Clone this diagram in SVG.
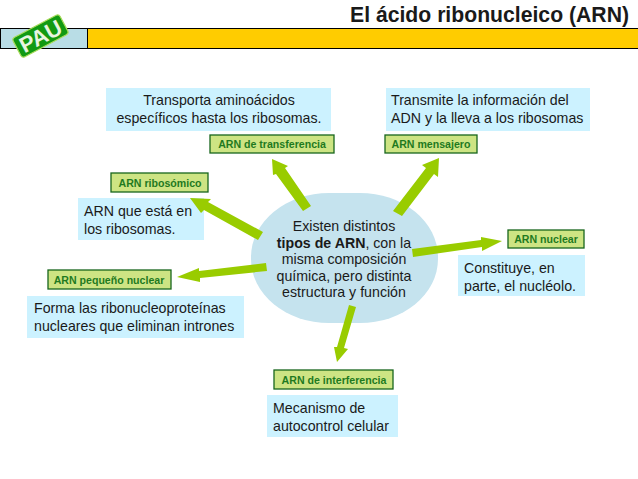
<svg xmlns="http://www.w3.org/2000/svg" width="638" height="479" viewBox="0 0 638 479">
<style>
text{font-family:"Liberation Sans",Arial,sans-serif;fill:#1a1a1a}
.b{fill:#ccf2ff}
.t{font-size:14.2px}
.g{fill:#cde483;stroke:#17661c;stroke-width:1.3}
.l{font-size:10.6px;font-weight:bold;fill:#1f7a1f;text-anchor:middle}
.c{text-anchor:middle}
.a{fill:#99cc00}
</style>
<rect width="638" height="479" fill="#fff"/>
<g id="header">
<rect x="0.5" y="28.5" width="87" height="20" fill="#b9dde6" stroke="#000" stroke-width="1"/>
<rect x="87.5" y="28.5" width="551" height="20" fill="#ffcc00" stroke="#000" stroke-width="1"/>
<text x="629" y="22" font-size="21.2" font-weight="bold" text-anchor="end" fill="#111">El ácido ribonucleico (ARN)</text>
</g>
<g id="pau">
<rect x="14" y="25" width="53" height="22" rx="3" fill="#129a12" stroke="#a9dc5c" stroke-width="1.2" transform="rotate(-28 40.5 36)"/>
<text x="40.5" y="44" font-size="22" font-weight="bold" text-anchor="middle" style="fill:#e8f5e0" transform="rotate(-28 40.5 36)">PAU</text>
</g>
<g id="centro">
<rect x="251" y="193" width="187" height="130" rx="78" ry="64" fill="#c5e3ee"/>
<g class="t c">
<text x="344" y="231">Existen distintos</text>
<text x="344" y="248"><tspan font-weight="bold">tipos de ARN</tspan>, con la</text>
<text x="344" y="264">misma composición</text>
<text x="344" y="281">química, pero distinta</text>
<text x="344" y="297">estructura y función</text>
</g>
</g>
<g id="transferencia">
<rect class="b" x="106" y="88" width="225" height="43"/>
<g class="t c"><text x="219" y="105">Transporta aminoácidos</text><text x="219" y="123">específicos hasta los ribosomas.</text></g>
<rect class="g" x="210" y="135" width="124" height="18"/>
<text class="l" x="272" y="148">ARN de transferencia</text>
</g>
<g id="mensajero">
<rect class="b" x="386" y="88" width="204" height="43"/>
<g class="t"><text x="391" y="105">Transmite la información del</text><text x="391" y="123">ADN y la lleva a los ribosomas</text></g>
<rect class="g" x="385" y="135" width="92" height="18"/>
<text class="l" x="431" y="148">ARN mensajero</text>
</g>
<g id="ribosomico">
<rect class="g" x="111" y="173" width="97" height="19"/>
<text class="l" x="160" y="187">ARN ribosómico</text>
<rect class="b" x="78" y="198" width="126" height="42"/>
<g class="t"><text x="84" y="216">ARN que está en</text><text x="84" y="234">los ribosomas.</text></g>
</g>
<g id="nuclear">
<rect class="g" x="508" y="230" width="76" height="18"/>
<text class="l" x="546" y="243">ARN nuclear</text>
<rect class="b" x="458" y="255" width="127" height="41"/>
<g class="t"><text x="464" y="273">Constituye, en</text><text x="464" y="291">parte, el nucléolo.</text></g>
</g>
<g id="pequeno">
<rect class="g" x="48" y="270" width="123" height="19"/>
<text class="l" x="109" y="284">ARN pequeño nuclear</text>
<rect class="b" x="27" y="296" width="217" height="42"/>
<g class="t"><text x="34" y="313">Forma las ribonucleoproteínas</text><text x="34" y="331">nucleares que eliminan intrones</text></g>
</g>
<g id="interferencia">
<rect class="g" x="274" y="370" width="119" height="19"/>
<text class="l" x="334" y="384">ARN de interferencia</text>
<rect class="b" x="267" y="395" width="131" height="42"/>
<g class="t"><text x="273" y="413">Mecanismo de</text><text x="273" y="431">autocontrol celular</text></g>
</g>
<g id="connectors">
<polygon class="a" points="311,206 303,211 276,174 273,175 272,159 288,166 285,168"/>
<polygon class="a" points="393,211 402,216 434,174 438,177 439,158 422,165 426,168"/>
<polygon class="a" points="263,232 258,240 204,210 201,213 190,198 211,199 208,202"/>
<polygon class="a" points="412,249 413,257 482,247 482,251 502,241 481,237 481,240"/>
<polygon class="a" points="266,263 267,271 200,278 200,282 177,277 199,268 199,271"/>
<polygon class="a" points="349,305 356,307 344,348 348,349 337,362 334,347 337,347"/>
</g>
</svg>
